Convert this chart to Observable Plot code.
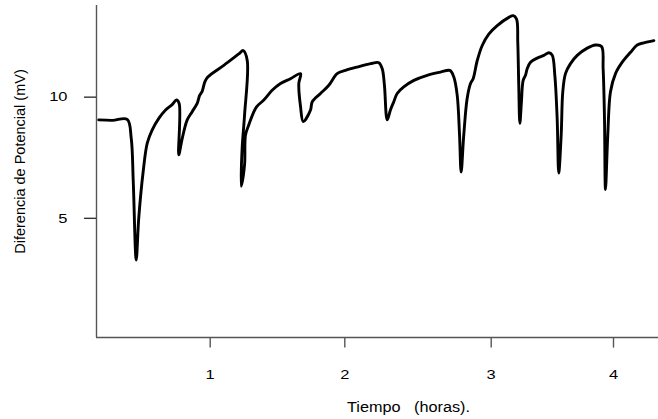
<!DOCTYPE html>
<html><head><meta charset="utf-8">
<script src="https://cdn.jsdelivr.net/npm/d3@7"></script>
<script src="https://cdn.jsdelivr.net/npm/@observablehq/plot@0.6"></script>
<style>
html,body{margin:0;padding:0;background:#fff;}
svg text{white-space:pre;}
</style></head><body><div id="chart"></div>
<script>
const hours = [0.202,0.304,0.413,0.443,0.458,0.480,0.499,0.532,0.562,0.599,
0.648,0.698,0.747,0.779,0.799,0.796,0.822,0.859,0.896,0.933,
0.952,0.970,0.990,1.012,1.131,1.242,1.275,1.305,1.285,1.267,
1.260,1.285,1.292,1.316,1.349,1.374,1.428,1.490,1.552,1.626,
1.701,1.688,1.701,1.721,1.775,1.788,1.849,1.911,1.973,2.032,
2.112,2.203,2.260,2.283,2.298,2.317,2.339,2.362,2.385,2.430,
2.499,2.590,2.681,2.745,2.772,2.795,2.811,2.822,2.840,2.863,
2.886,2.904,2.932,2.966,3.013,3.082,3.177,3.213,3.240,3.250,
3.258,3.267,3.280,3.294,3.313,3.327,3.354,3.409,3.463,3.504,
3.531,3.553,3.572,3.585,3.605,3.618,3.640,3.681,3.736,3.818,
3.886,3.935,3.948,3.959,3.967,3.986,4.008,4.049,4.104,4.172,
4.226,4.280,4.362];
const mV = [8.98,8.96,9.0,8.22,6.45,3.20,4.94,6.86,8.02,8.57,
9.04,9.39,9.61,9.80,9.66,7.54,8.22,8.98,9.32,9.66,
10.0,10.16,10.55,10.75,11.23,11.70,11.84,11.43,9.18,7.81,
6.24,7.13,8.36,8.77,9.25,9.52,9.80,10.20,10.48,10.68,
10.89,10.48,9.52,8.91,9.39,9.73,10.07,10.41,10.89,11.02,
11.16,11.30,11.34,11.09,10.41,8.98,9.39,9.73,10.07,10.34,
10.61,10.82,10.95,11.02,10.75,10.0,8.36,6.83,8.36,9.86,
10.48,10.68,11.43,12.05,12.52,12.87,13.21,13.28,13.14,12.18,
10.41,8.84,9.73,10.61,10.82,11.09,11.36,11.53,11.64,11.75,
11.66,10.82,9.04,6.79,8.36,10.14,10.89,11.30,11.64,11.94,
12.07,12.01,11.09,9.04,6.11,8.36,10.14,10.89,11.36,11.77,
12.07,12.16,12.25];
const xTicks = [1, 2, 3, 4];
const yTicks = [5, 10];
const xLabel = "Tiempo   (horas).";
const yLabel = "Diferencia de Potencial (mV)";
// axis breakpoints (the original time axis is not evenly spaced)
const xDomain = [0.185, 1, 2, 3, 4, 4.40];
const yDomain = [0, 13.7];

const data = hours.map((h, i) => ({h, v: mV[i]}));
const font = "'Liberation Sans', Arial, Helvetica, sans-serif";
const axisColor = "#555";

const chart = Plot.plot({
  width: 658, height: 419,
  marginLeft: 96, marginRight: 0, marginTop: 5, marginBottom: 82,
  style: {fontFamily: font, background: "#fff", color: "#000"},
  x: {type: "linear", domain: xDomain, range: [96, 205.7, 340.3, 486.7, 609, 658]},
  y: {domain: yDomain},
  marks: [
    Plot.ruleY([yDomain[0]], {stroke: axisColor, strokeWidth: 1.4}),
    Plot.ruleX([xDomain[0]], {stroke: axisColor, strokeWidth: 1.4}),
    Plot.axisX({ticks: xTicks, tickSize: 10.6, tickPadding: 21, fontSize: 13.5, dx: 4,
      tickFormat: d => String(d), stroke: axisColor, strokeWidth: 1.4, label: null, fill: "#000"}),
    Plot.axisY({ticks: yTicks, tickSize: 12, tickPadding: 17, fontSize: 13.5, dy: 2,
      tickFormat: d => String(d), stroke: "#333", strokeWidth: 1.4, label: null, fill: "#000"}),
    Plot.line(data, {x: "h", y: "v", stroke: "#000", strokeWidth: 2.9, curve: "catmull-rom",
      strokeLinejoin: "round", strokeLinecap: "round"}),
    Plot.text([xLabel], {frameAnchor: "bottom", dx: 31, dy: 74, fontSize: 14, fill: "#000"}),
    Plot.text([yLabel], {frameAnchor: "left", textAnchor: "middle", rotate: -90, dx: -76, dy: -10,
      fontSize: 14.5, fill: "#000"})
  ]
});
document.getElementById("chart").appendChild(chart);

// horizontal stretch of the text glyphs as in the original
function stretch(t, s) {
  const x = +t.getAttribute("x") || 0, y = +t.getAttribute("y") || 0;
  t.setAttribute("transform", (t.getAttribute("transform") || "") +
    ` translate(${x},${y}) scale(${s},1) translate(${-x},${-y})`);
}
chart.querySelectorAll("g[aria-label='x-axis tick label'] text, g[aria-label='y-axis tick label'] text")
  .forEach(t => stretch(t, 1.22));
chart.querySelectorAll("text").forEach(t => { if (t.textContent === xLabel) stretch(t, 1.16); });
</script></body></html>
